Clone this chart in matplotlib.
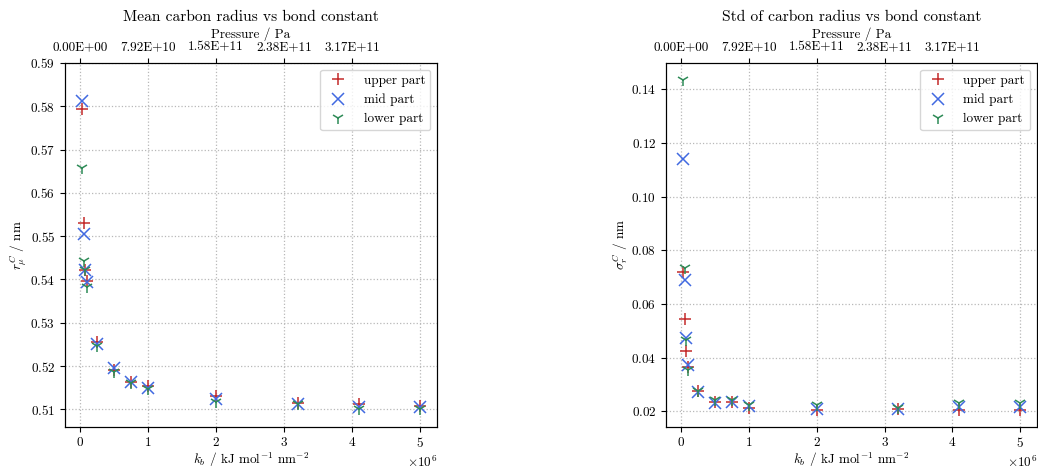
import numpy as np
import matplotlib.pyplot as plt
from matplotlib.ticker import MultipleLocator

plt.rcParams["font.family"] = ["cmr10", "DejaVu Serif"]
plt.rcParams["mathtext.fontset"] = "cm"
plt.rcParams["axes.formatter.use_mathtext"] = True
plt.rcParams["axes.unicode_minus"] = False

# bond constant k_b in kJ mol^-1 nm^-2
kb = np.array([0.025, 0.05, 0.075, 0.1, 0.25, 0.5, 0.75, 1.0, 2.0, 3.2, 4.1, 5.0]) * 1e6

# conversion k_b -> pressure (Pa per kJ mol^-1 nm^-2), used for the top axis labels
pressure_factor = 79200.0

mean_upper = [0.5793, 0.5530, 0.5423, 0.5397, 0.5256, 0.5192, 0.5163, 0.5153, 0.5131, 0.5114, 0.5112, 0.5108]
mean_mid = [0.5813, 0.5505, 0.5423, 0.5395, 0.5252, 0.5195, 0.5164, 0.5150, 0.5124, 0.5113, 0.5105, 0.5105]
mean_lower = [0.5657, 0.5443, 0.5421, 0.5383, 0.5246, 0.5187, 0.5161, 0.5148, 0.5118, 0.5112, 0.5102, 0.5100]

std_upper = [0.0719, 0.0545, 0.0425, 0.0365, 0.0275, 0.0236, 0.0233, 0.0213, 0.0204, 0.0208, 0.0206, 0.0206]
std_mid = [0.1140, 0.0691, 0.0472, 0.0372, 0.0273, 0.0229, 0.0236, 0.0220, 0.0210, 0.0210, 0.0214, 0.0214]
std_lower = [0.1437, 0.0734, 0.0465, 0.0355, 0.0274, 0.0241, 0.0242, 0.0225, 0.0225, 0.0213, 0.0229, 0.0229]

series_style = {
    "upper part": ("+", "#c42b2b"),
    "mid part": ("x", "#4169e1"),
    "lower part": ("1", "#2e8b57"),
}

panels = [
    {
        "rect": [65 / 1038, 46.3 / 473, 372 / 1038, 363.7 / 473],
        "title": "Mean carbon radius vs bond constant",
        "ylabel": r"$r_\mu^C$ / nm",
        "data": [mean_upper, mean_mid, mean_lower],
        "ylim": (0.506, 0.59),
        "ystep": 0.01,
    },
    {
        "rect": [666 / 1038, 46.3 / 473, 371 / 1038, 363.7 / 473],
        "title": "Std of carbon radius vs bond constant",
        "ylabel": r"$\sigma_r^C$ / nm",
        "data": [std_upper, std_mid, std_lower],
        "ylim": None,
        "ystep": 0.02,
    },
]

fs = 9.5

fig = plt.figure(figsize=(10.38, 4.73), dpi=100)

for panel in panels:
    ax = fig.add_axes(panel["rect"])
    for (label, (marker, color)), values in zip(series_style.items(), panel["data"]):
        ax.plot(kb, values, linestyle="none", marker=marker, color=color,
                markersize=9, markeredgewidth=1.1, label=label)

    if panel["ylim"] is not None:
        ax.set_ylim(*panel["ylim"])
    ax.yaxis.set_major_locator(MultipleLocator(panel["ystep"]))
    ax.set_xticks(np.arange(0, 6) * 1e6)
    ax.ticklabel_format(axis="x", style="sci", scilimits=(0, 0))
    ax.xaxis.get_offset_text().set_fontsize(fs)

    ax.set_xlabel(r"$k_b$ / kJ mol$^{-1}$ nm$^{-2}$", fontsize=fs, labelpad=0.5)
    ax.set_ylabel(panel["ylabel"], fontsize=fs, labelpad=0.5)
    ax.tick_params(labelsize=fs)
    ax.grid(True, linestyle=":", color="#b8b8b8", linewidth=0.9)
    ax.legend(loc="upper right", fontsize=fs, handletextpad=0.9)

    top = ax.twiny()
    top.set_xlim(ax.get_xlim())
    top_ticks = np.arange(0, 5) * 1e6
    top.set_xticks(top_ticks)
    top.set_xticklabels([f"{t * pressure_factor:.2E}" for t in top_ticks], fontsize=fs)
    top.set_xlabel("Pressure / Pa", fontsize=fs, labelpad=2.5)

    ax.set_title(panel["title"], fontsize=11.2, pad=4.5)

fig.savefig("out.png", dpi=100)
